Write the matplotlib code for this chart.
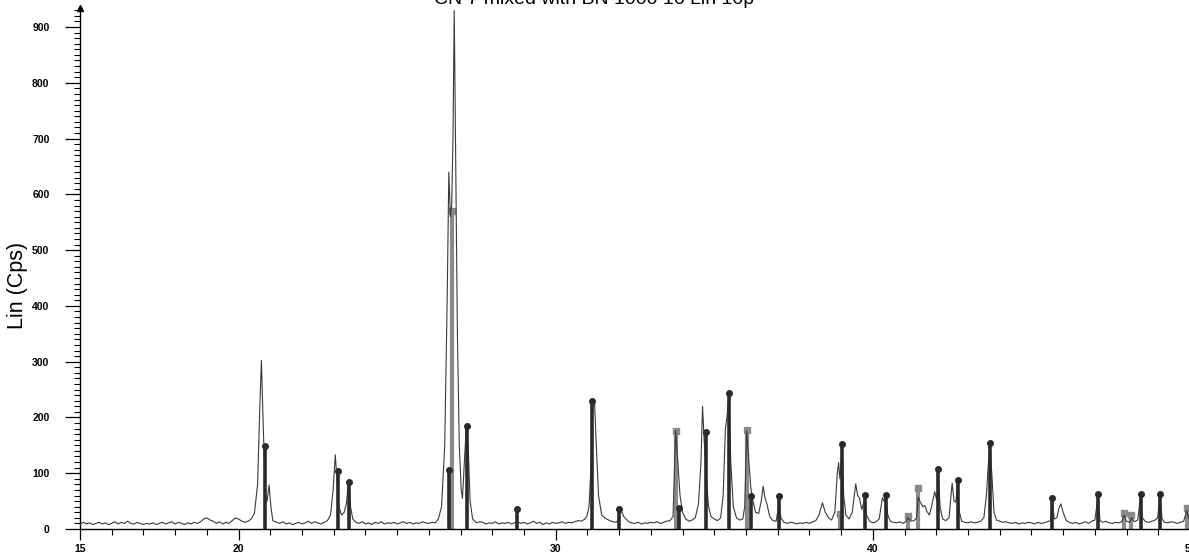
import numpy as np
import matplotlib.pyplot as plt
from matplotlib.ticker import MultipleLocator, FixedLocator

# Diffractogram trace: 2-theta (deg) and counts
two_theta = [
    15.0, 15.1, 15.2, 15.3, 15.4, 15.5, 15.6, 15.7, 15.8, 15.9,
    16.0, 16.1, 16.2, 16.3, 16.4, 16.5, 16.6, 16.7, 16.8, 16.9,
    17.0, 17.1, 17.2, 17.3, 17.4, 17.5, 17.6, 17.7, 17.8, 17.9,
    18.0, 18.1, 18.2, 18.3, 18.4, 18.5, 18.6, 18.7, 18.8, 18.9,
    19.0, 19.1, 19.2, 19.3, 19.4, 19.5, 19.6, 19.7, 19.8, 19.9,
    20.0, 20.1, 20.2, 20.3, 20.4, 20.5, 20.6, 20.66, 20.72, 20.78,
    20.85, 20.9, 20.96, 21.02, 21.08, 21.2, 21.3, 21.4, 21.5, 21.6,
    21.7, 21.8, 21.9, 22.0, 22.1, 22.2, 22.3, 22.4, 22.5, 22.6,
    22.7, 22.8, 22.9, 22.98, 23.05, 23.1, 23.16, 23.25, 23.33, 23.4,
    23.47, 23.53, 23.6, 23.7, 23.8, 23.9, 24.0, 24.1, 24.2, 24.3,
    24.4, 24.5, 24.6, 24.7, 24.8, 24.9, 25.0, 25.1, 25.2, 25.3,
    25.4, 25.5, 25.6, 25.7, 25.8, 25.9, 26.0, 26.1, 26.2, 26.3,
    26.4, 26.5, 26.58, 26.63, 26.68, 26.72, 26.76, 26.8, 26.84, 26.9,
    26.96, 27.02, 27.06, 27.12, 27.18, 27.24, 27.3, 27.38, 27.5, 27.6,
    27.7, 27.8, 27.9, 28.0, 28.1, 28.2, 28.3, 28.4, 28.5, 28.6,
    28.7, 28.8, 28.9, 29.0, 29.1, 29.2, 29.3, 29.4, 29.5, 29.6,
    29.7, 29.8, 29.9, 30.0, 30.1, 30.2, 30.3, 30.4, 30.5, 30.6,
    30.7, 30.8, 30.9, 30.98, 31.05, 31.12, 31.17, 31.22, 31.28, 31.35,
    31.45, 31.55, 31.7, 31.8, 31.9, 31.96, 32.0, 32.06, 32.15, 32.3,
    32.4, 32.5, 32.6, 32.7, 32.8, 32.9, 33.0, 33.1, 33.2, 33.3,
    33.4, 33.5, 33.6, 33.7, 33.78, 33.85, 33.92, 34.0, 34.1, 34.2,
    34.3, 34.4, 34.5, 34.58, 34.63, 34.68, 34.75, 34.82, 34.9, 35.0,
    35.1, 35.2, 35.28, 35.35, 35.4, 35.46, 35.52, 35.6, 35.7, 35.8,
    35.9, 35.96, 36.02, 36.08, 36.15, 36.22, 36.3, 36.4, 36.48, 36.54,
    36.6, 36.66, 36.75, 36.85, 36.95, 37.04, 37.1, 37.2, 37.3, 37.4,
    37.5, 37.6, 37.7, 37.8, 37.9, 38.0, 38.1, 38.2, 38.3, 38.41,
    38.5, 38.6, 38.7, 38.8, 38.88, 38.92, 38.96, 39.03, 39.08, 39.15,
    39.25, 39.35, 39.46, 39.52, 39.58, 39.65, 39.75, 39.8, 39.9, 40.0,
    40.1, 40.2, 40.3, 40.35, 40.41, 40.47, 40.55, 40.65, 40.75, 40.85,
    40.95, 41.05, 41.11, 41.2, 41.3, 41.38, 41.43, 41.48, 41.53, 41.58,
    41.64, 41.7, 41.78, 41.85, 41.95, 42.02, 42.06, 42.12, 42.2, 42.3,
    42.4, 42.5, 42.56, 42.62, 42.67, 42.73, 42.8, 42.9, 43.0, 43.1,
    43.2, 43.3, 43.4, 43.5, 43.58, 43.64, 43.69, 43.75, 43.82, 43.9,
    44.0, 44.1, 44.2, 44.3, 44.4, 44.5, 44.6, 44.7, 44.8, 44.9,
    45.0, 45.1, 45.2, 45.3, 45.4, 45.5, 45.6, 45.66, 45.72, 45.8,
    45.87, 45.93, 46.0, 46.1, 46.2, 46.3, 46.4, 46.5, 46.6, 46.7,
    46.8, 46.9, 47.0, 47.1, 47.16, 47.25, 47.35, 47.45, 47.55, 47.65,
    47.75, 47.85, 47.92, 48.0, 48.1, 48.15, 48.25, 48.35, 48.44, 48.5,
    48.6, 48.7, 48.8, 48.9, 48.98, 49.05, 49.12, 49.2, 49.3, 49.4,
    49.5, 49.6, 49.7, 49.8, 49.9, 49.95, 50.0,
]
counts = [
    8, 12, 9, 11, 8, 10, 12, 9, 11, 8,
    10, 13, 9, 12, 10, 14, 10, 9, 12, 10,
    8, 10, 9, 11, 8, 10, 12, 9, 11, 13,
    9, 12, 10, 8, 11, 9, 12, 10, 13, 18,
    20, 16, 14, 10, 13, 9, 12, 10, 15, 20,
    18, 14, 12, 14, 18, 28, 80, 200, 302, 180,
    60, 50, 79, 40, 15, 12, 10, 13, 9, 11,
    8, 10, 12, 9, 11, 14, 10, 13, 11, 9,
    12, 15, 25, 70, 133, 90, 40, 25, 30, 45,
    88, 40, 18, 12, 10, 13, 9, 11, 8, 12,
    10, 13, 9, 11, 10, 12, 9, 11, 13, 10,
    12, 9, 11, 10, 13, 11, 10, 12, 11, 18,
    40, 150, 420, 640, 560, 580, 700, 930, 700, 350,
    150, 70, 55, 120, 185, 150, 50, 18, 11, 13,
    12, 9, 11, 10, 13, 9, 11, 10, 12, 9,
    11, 13, 10, 12, 9, 11, 14, 10, 12, 8,
    11, 9, 12, 10, 11, 13, 10, 12, 11, 13,
    15, 14, 17, 22, 40, 120, 225, 232, 150, 60,
    25, 20, 15, 13, 12, 15, 25, 33, 22, 13,
    11, 10, 12, 9, 11, 10, 12, 11, 13, 10,
    12, 14, 15, 22, 176, 120, 60, 30, 18, 14,
    16, 20, 45, 120, 220, 160, 90, 40, 22, 18,
    15, 20, 60, 180, 200, 240, 120, 40, 20, 16,
    18, 40, 176, 130, 75, 50, 30, 28, 50, 77,
    55, 45, 22, 15, 14, 45, 20, 12, 10, 12,
    11, 9, 11, 10, 12, 10, 13, 15, 25, 47,
    30, 20, 16, 30, 100, 119, 90, 145, 60, 25,
    18, 30, 81, 60, 55, 35, 55, 25, 14, 11,
    13, 18, 56, 50, 58, 25, 14, 12, 11, 13,
    10, 14, 20, 14, 15, 20, 57, 50, 45, 40,
    42, 32, 25, 40, 67, 50, 100, 40, 18, 15,
    20, 82, 50, 48, 85, 30, 14, 12, 11, 13,
    11, 12, 14, 20, 60, 115, 150, 100, 30, 16,
    14, 12, 13, 11, 10, 12, 9, 11, 10, 12,
    11, 9, 12, 10, 11, 13, 15, 50, 18, 20,
    38, 45, 30, 15, 12, 10, 12, 9, 11, 13,
    10, 14, 16, 58, 15, 12, 14, 11, 10, 12,
    11, 13, 25, 14, 12, 20, 13, 16, 58, 20,
    13, 12, 14, 16, 20, 58, 18, 12, 11, 13,
    12, 10, 12, 14, 33, 20, 14,
]

# Reference pattern lines (dark, round caps)
ref_a_pos = [20.83, 23.14, 23.47, 26.63, 27.2, 28.77, 31.15, 32.0, 33.89, 34.75,
             35.47, 36.17, 37.04, 39.03, 39.75, 40.41, 42.06, 42.67, 43.69, 45.66,
             47.1, 48.44, 49.05]
ref_a_int = [148, 104, 85, 105, 185, 35, 230, 35, 37, 174,
             243, 60, 60, 152, 61, 61, 107, 88, 154, 55,
             62, 62, 62]

# Reference pattern lines (grey, square caps)
ref_b_pos = [26.72, 33.78, 36.04, 38.96, 41.11, 41.43, 47.92, 48.15, 49.9]
ref_b_int = [570, 176, 177, 27, 24, 74, 29, 25, 37]

x_labels = [15, 20, 30, 40, 50]

plt.rcParams['font.family'] = ['Liberation Sans', 'DejaVu Sans']

fig = plt.figure(figsize=(11.89, 5.52), dpi=100)
ax = fig.add_axes([80 / 1189, 23 / 552, 1110 / 1189, 521.5 / 552])

ax.plot(two_theta, counts, color='#3a3a3a', lw=0.8, zorder=3)

ax.vlines(ref_b_pos, 0, ref_b_int, color='#8a8a8a', lw=3.0, zorder=2)
ax.plot(ref_b_pos, ref_b_int, ls='none', marker='s', ms=4.5, color='#8a8a8a', zorder=2)
ax.vlines(ref_a_pos, 0, ref_a_int, color='#2a2a2a', lw=2.6, zorder=4)
ax.plot(ref_a_pos, ref_a_int, ls='none', marker='o', ms=4, color='#2a2a2a', zorder=4)

ax.set_xlim(15, 50)
ax.set_ylim(0, 935)

for s in ['top', 'right']:
    ax.spines[s].set_visible(False)
ax.spines['left'].set_linewidth(1.0)
ax.spines['bottom'].set_linewidth(1.0)

ax.xaxis.set_major_locator(FixedLocator(x_labels))
ax.xaxis.set_minor_locator(MultipleLocator(1))
ax.yaxis.set_major_locator(MultipleLocator(100))
ax.yaxis.set_minor_locator(MultipleLocator(10))
ax.tick_params(axis='both', which='major', length=11, width=0.9,
               labelsize=7.5, direction='out')
ax.tick_params(axis='both', which='minor', length=4, width=0.8, direction='out')
ax.tick_params(axis='x', which='major', length=8, pad=3)
ax.tick_params(axis='y', which='major', pad=11)
for lab in ax.get_xticklabels() + ax.get_yticklabels():
    lab.set_fontweight('bold')

ax.set_ylabel('Lin (Cps)', fontsize=15.5)
ax.yaxis.set_label_coords(-0.047, 0.468)

# arrow head on top of the y axis
ax.plot([15], [935], marker='^', ms=4, color='black', clip_on=False, zorder=5)

fig.text(0.5, 1.0, 'CN 7 mixed with BN 1000 16 Lin 10p', ha='center', va='center',
         fontsize=14)

fig.savefig('out.png', dpi=100)
